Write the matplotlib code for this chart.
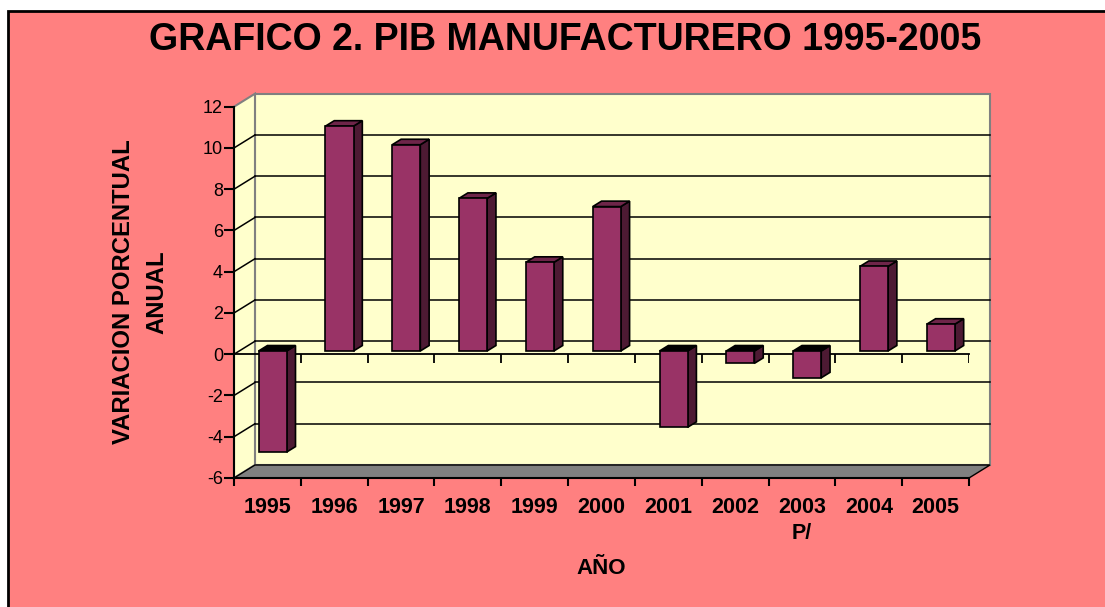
import matplotlib.pyplot as plt
from matplotlib.patches import Polygon, Rectangle
import numpy as np

plt.rcParams['font.family'] = ['Liberation Sans', 'DejaVu Sans']

# datos
anios = ['1995', '1996', '1997', '1998', '1999', '2000', '2001', '2002', '2003\nP/', '2004', '2005']
variacion = [-4.9, 10.9, 10.0, 7.4, 4.3, 7.0, -3.7, -0.6, -1.3, 4.1, 1.3]
y_ticks = [-6, -4, -2, 0, 2, 4, 6, 8, 10, 12]

# estilo
fondo = '#FF8080'
pared = '#FFFFCC'
gris = '#808080'
barra = '#993366'
barra_lado = '#4D1A33'
barra_tapa = '#6E2549'

W, H = 1105, 607
fig = plt.figure(figsize=(W / 100, H / 100), dpi=100, facecolor='white')
# marco del area del grafico
fig.patches.append(Rectangle((8 / W, -0.05), 1.1, 1 - 11 / H + 0.05, transform=fig.transFigure,
                             facecolor=fondo, edgecolor='black', linewidth=2, zorder=-1))

ax = fig.add_axes([234 / W, 129 / H, 735 / W, 371.3 / H])
ax.set_facecolor('none')
n = len(anios)
x0, x1 = -0.5, n - 0.5
y0, y1 = y_ticks[0], y_ticks[-1]
ax.set_xlim(x0, x1)
ax.set_ylim(y0, y1)

# profundidad (en unidades de datos)
dx, dy = 0.314, 0.63
f0, f1 = 0.25, 0.67  # posicion de las barras en la profundidad
w = 0.42

# pared del fondo, pared izquierda y piso
ax.add_patch(Rectangle((x0 + dx, y0 + dy), x1 - x0, y1 - y0, facecolor=pared, edgecolor=gris,
                       linewidth=1.5, clip_on=False, zorder=0.5))
ax.add_patch(Polygon([(x0, y0), (x0 + dx, y0 + dy), (x0 + dx, y1 + dy), (x0, y1)], closed=True,
                     facecolor=pared, edgecolor=gris, linewidth=1.5, clip_on=False, zorder=0.6))
ax.add_patch(Polygon([(x0, y0), (x1, y0), (x1 + dx, y0 + dy), (x0 + dx, y0 + dy)], closed=True,
                     facecolor=gris, edgecolor='black', linewidth=1, clip_on=False, zorder=0.7))

# lineas de cuadricula
for v in y_ticks[1:-1]:
    ax.plot([x0 + dx, x1 + dx], [v + dy, v + dy], color='black', lw=1.1, clip_on=False, zorder=0.8)
    ax.plot([x0, x0 + dx], [v, v + dy], color='black', lw=1.1, clip_on=False, zorder=0.8)

# eje de categorias en cero
ax.plot([x0, x1], [0, 0], color='black', lw=1.3, clip_on=False, zorder=0.9)
limites = np.arange(x0 + 1, x1 + 0.01, 1)
ax.vlines(limites, 0, -0.44, color='black', lw=1.3, zorder=0.9)

# barras 3D
xs = np.arange(n) + f0 * dx
base = f0 * dy
ax.bar(xs, variacion, width=w, bottom=base, color=barra, edgecolor='black', linewidth=1.2, zorder=3)
ddx, ddy = (f1 - f0) * dx, (f1 - f0) * dy
for xc, v in zip(xs, variacion):
    xl, xr = xc - w / 2, xc + w / 2
    lo, hi = min(base, base + v), max(base, base + v)
    ax.add_patch(Polygon([(xr, lo), (xr, hi), (xr + ddx, hi + ddy), (xr + ddx, lo + ddy)], closed=True,
                         facecolor=barra_lado, edgecolor='black', linewidth=1.2, zorder=2.9))
    tapa = barra_tapa if v >= 0 else 'black'
    ax.add_patch(Polygon([(xl, hi), (xr, hi), (xr + ddx, hi + ddy), (xl + ddx, hi + ddy)], closed=True,
                         facecolor=tapa, edgecolor='black', linewidth=1.2, zorder=2.9))

# ejes
for s in ['top', 'right']:
    ax.spines[s].set_visible(False)
ax.spines['left'].set_linewidth(1.5)
ax.spines['bottom'].set_linewidth(1.5)
ax.set_yticks(y_ticks)
ax.set_yticklabels([str(t) for t in y_ticks], fontsize=13)
ax.tick_params(axis='y', direction='out', length=7, width=1.5, pad=1)
ax.set_xticks(np.arange(n))
ax.set_xticklabels(anios, fontsize=15.5, fontweight='bold', linespacing=1.3)
ax.set_xticks(limites.tolist() + [x0], minor=True)
ax.tick_params(axis='x', which='major', length=0, pad=14)
ax.tick_params(axis='x', which='minor', direction='out', length=6, width=1.5)

fig.text(565 / W, 1 - 39.5 / H, 'GRAFICO 2. PIB MANUFACTURERO 1995-2005', ha='center', va='center',
         fontsize=27, fontweight='bold')
fig.text(140 / W, 1 - 292 / H, 'VARIACION PORCENTUAL\nANUAL', ha='center', va='center', rotation=90,
         fontsize=17.2, fontweight='bold', linespacing=1.6)
fig.text(601 / W, 1 - 569 / H, 'AÑO', ha='center', va='center', fontsize=16, fontweight='bold')

fig.savefig('out.png', dpi=100, facecolor='white')
